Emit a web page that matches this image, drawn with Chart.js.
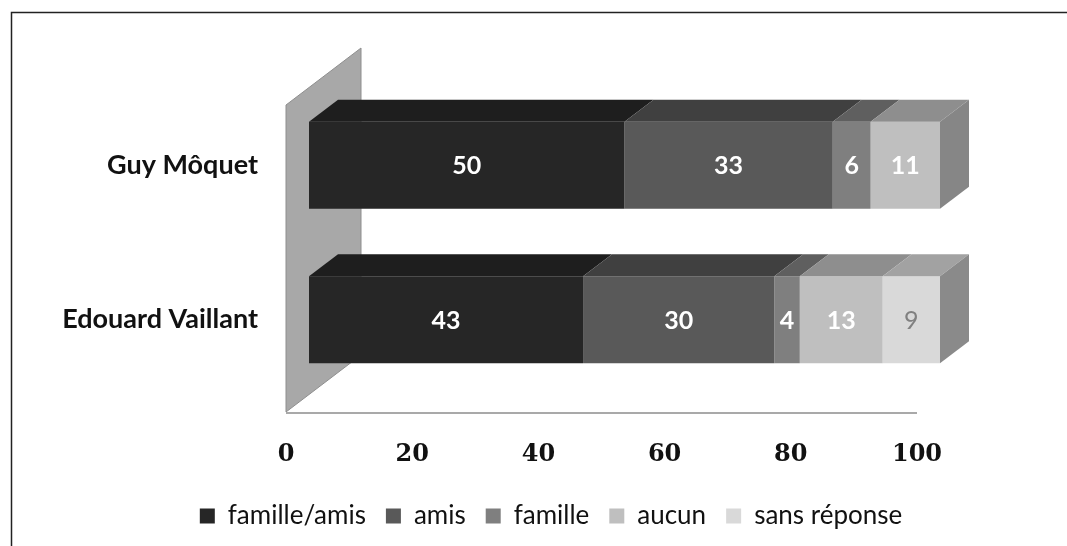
<!DOCTYPE html>
<html>
<head>
<meta charset="utf-8">
<script src="https://cdn.jsdelivr.net/npm/chart.js@4"></script>
<style>
  html, body { margin: 0; padding: 0; background: #fff; }
  #wrap { width: 1067px; height: 546px; }
</style>
</head>
<body>
<div id="wrap"><canvas id="Chart" width="1067" height="546"></canvas></div>
<script>
const categories = ["Guy Môquet", "Edouard Vaillant"];
const seriesNames = ["famille/amis", "amis", "famille", "aucun", "sans réponse"];

const familleAmis = [50, 43];
const amis = [33, 30];
const famille = [6, 4];
const aucun = [11, 13];
const sansReponse = [0, 9];

const xTicks = [0, 20, 40, 60, 80, 100];

const frontColors = ["#262626", "#595959", "#7f7f7f", "#bfbfbf", "#d9d9d9"];
const topColors = ["#1e1e1e", "#404040", "#5f5f5f", "#8e8e8e", "#a2a2a2"];
const sideColors = ["#1a1a1a", "#3a3a3a", "#575757", "#868686", "#8a8a8a"];
const labelColors = ["#ffffff", "#ffffff", "#ffffff", "#ffffff", "#808080"];

const series = [familleAmis, amis, famille, aucun, sansReponse];

// bars are drawn as 100% stacked, labels keep the raw numbers
const totals = categories.map((c, i) => series.reduce((s, arr) => s + arr[i], 0));

const DX = 29, DY = -22;

const threeD = {
  id: "threeD",
  afterLayout(chart) {
    // legend sits centred a bit right of the plot
    const lg = chart.legend;
    lg.left += 81;
    lg.right += 81;
  },
  beforeDatasetsDraw(chart) {
    const ctx = chart.ctx, area = chart.chartArea, xs = chart.scales.x;
    const x0 = xs.getPixelForValue(0), x100 = xs.getPixelForValue(100);
    ctx.save();
    // back wall
    ctx.beginPath();
    ctx.moveTo(x0 - 23, area.top + 17);
    ctx.lineTo(x0 + 52, area.top - 40);
    ctx.lineTo(x0 + 52, area.bottom - 42);
    ctx.lineTo(x0 - 23, area.bottom + 15);
    ctx.closePath();
    ctx.fillStyle = "#a8a8a8";
    ctx.fill();
    ctx.strokeStyle = "#8e8e8e";
    ctx.lineWidth = 1;
    ctx.stroke();
    // floor edge
    ctx.beginPath();
    ctx.moveTo(x0 - 23, area.bottom + 16);
    ctx.lineTo(x100 - 23, area.bottom + 16);
    ctx.strokeStyle = "#a9a9a9";
    ctx.lineWidth = 2;
    ctx.stroke();
    ctx.restore();
  },
  afterDatasetsDraw(chart) {
    const ctx = chart.ctx;
    ctx.save();
    categories.forEach((cat, i) => {
      let last = -1;
      series.forEach((arr, d) => { if (arr[i] > 0) last = d; });
      series.forEach((arr, d) => {
        if (arr[i] <= 0) return;
        const el = chart.getDatasetMeta(d).data[i];
        const p = el.getProps(["x", "y", "base", "height"], true);
        const l = Math.min(p.x, p.base), r = Math.max(p.x, p.base);
        const t = p.y - p.height / 2, b = p.y + p.height / 2;
        ctx.beginPath();
        ctx.moveTo(l, t);
        ctx.lineTo(r, t);
        ctx.lineTo(r + DX, t + DY);
        ctx.lineTo(l + DX, t + DY);
        ctx.closePath();
        ctx.fillStyle = topColors[d];
        ctx.fill();
        if (d === last) {
          ctx.beginPath();
          ctx.moveTo(r, t);
          ctx.lineTo(r + DX, t + DY);
          ctx.lineTo(r + DX, b + DY);
          ctx.lineTo(r, b);
          ctx.closePath();
          ctx.fillStyle = sideColors[d];
          ctx.fill();
        }
        ctx.fillStyle = labelColors[d];
        ctx.font = (d === 4 ? "" : "bold ") + "25px Lato";
        ctx.textAlign = "center";
        ctx.textBaseline = "middle";
        ctx.fillText(String(arr[i]), (l + r) / 2, p.y + 1);
      });
    });
    ctx.restore();
  },
  afterDraw(chart) {
    const ctx = chart.ctx;
    ctx.save();
    ctx.beginPath();
    ctx.moveTo(11.5, 546);
    ctx.lineTo(11.5, 12.5);
    ctx.lineTo(1067, 12.5);
    ctx.strokeStyle = "#222";
    ctx.lineWidth = 1.5;
    ctx.stroke();
    ctx.restore();
  }
};

const data = {
  labels: categories,
  datasets: seriesNames.map((name, d) => ({
    label: name,
    data: series[d].map((v, i) => v / totals[i] * 100),
    backgroundColor: frontColors[d],
    borderWidth: 0,
    categoryPercentage: 0.625,
    barPercentage: 0.9
  }))
};

const config = {
  type: "bar",
  data: data,
  options: {
    indexAxis: "y",
    responsive: false,
    animation: false,
    devicePixelRatio: 1,
    layout: { padding: { top: 88, right: 127, bottom: 7, left: 0 } },
    scales: {
      x: {
        stacked: true,
        min: 0,
        max: 100,
        afterBuildTicks(scale) { scale.ticks = xTicks.map(v => ({ value: v })); },
        afterFit(scale) { scale.height = 86; },
        grid: { display: false, drawTicks: false, tickLength: 0 },
        border: { display: false },
        ticks: {
          labelOffset: -23,
          padding: 43,
          color: "#111",
          font: { family: "DejaVu Serif", weight: "bold", size: 24 }
        }
      },
      y: {
        stacked: true,
        afterFit(scale) { scale.width = 309; },
        grid: { display: false, drawTicks: false, tickLength: 0 },
        border: { display: false },
        ticks: {
          padding: 51,
          color: "#111",
          font: { family: "Lato", weight: "bold", size: 27 }
        }
      }
    },
    plugins: {
      legend: {
        position: "bottom",
        labels: {
          boxWidth: 15,
          boxHeight: 15,
          padding: 20,
          color: "#111",
          font: { family: "Lato", size: 26 }
        }
      },
      tooltip: { enabled: false }
    }
  },
  plugins: [threeD]
};

const myChart = new Chart(document.getElementById("Chart"), config);
</script>
</body>
</html>
